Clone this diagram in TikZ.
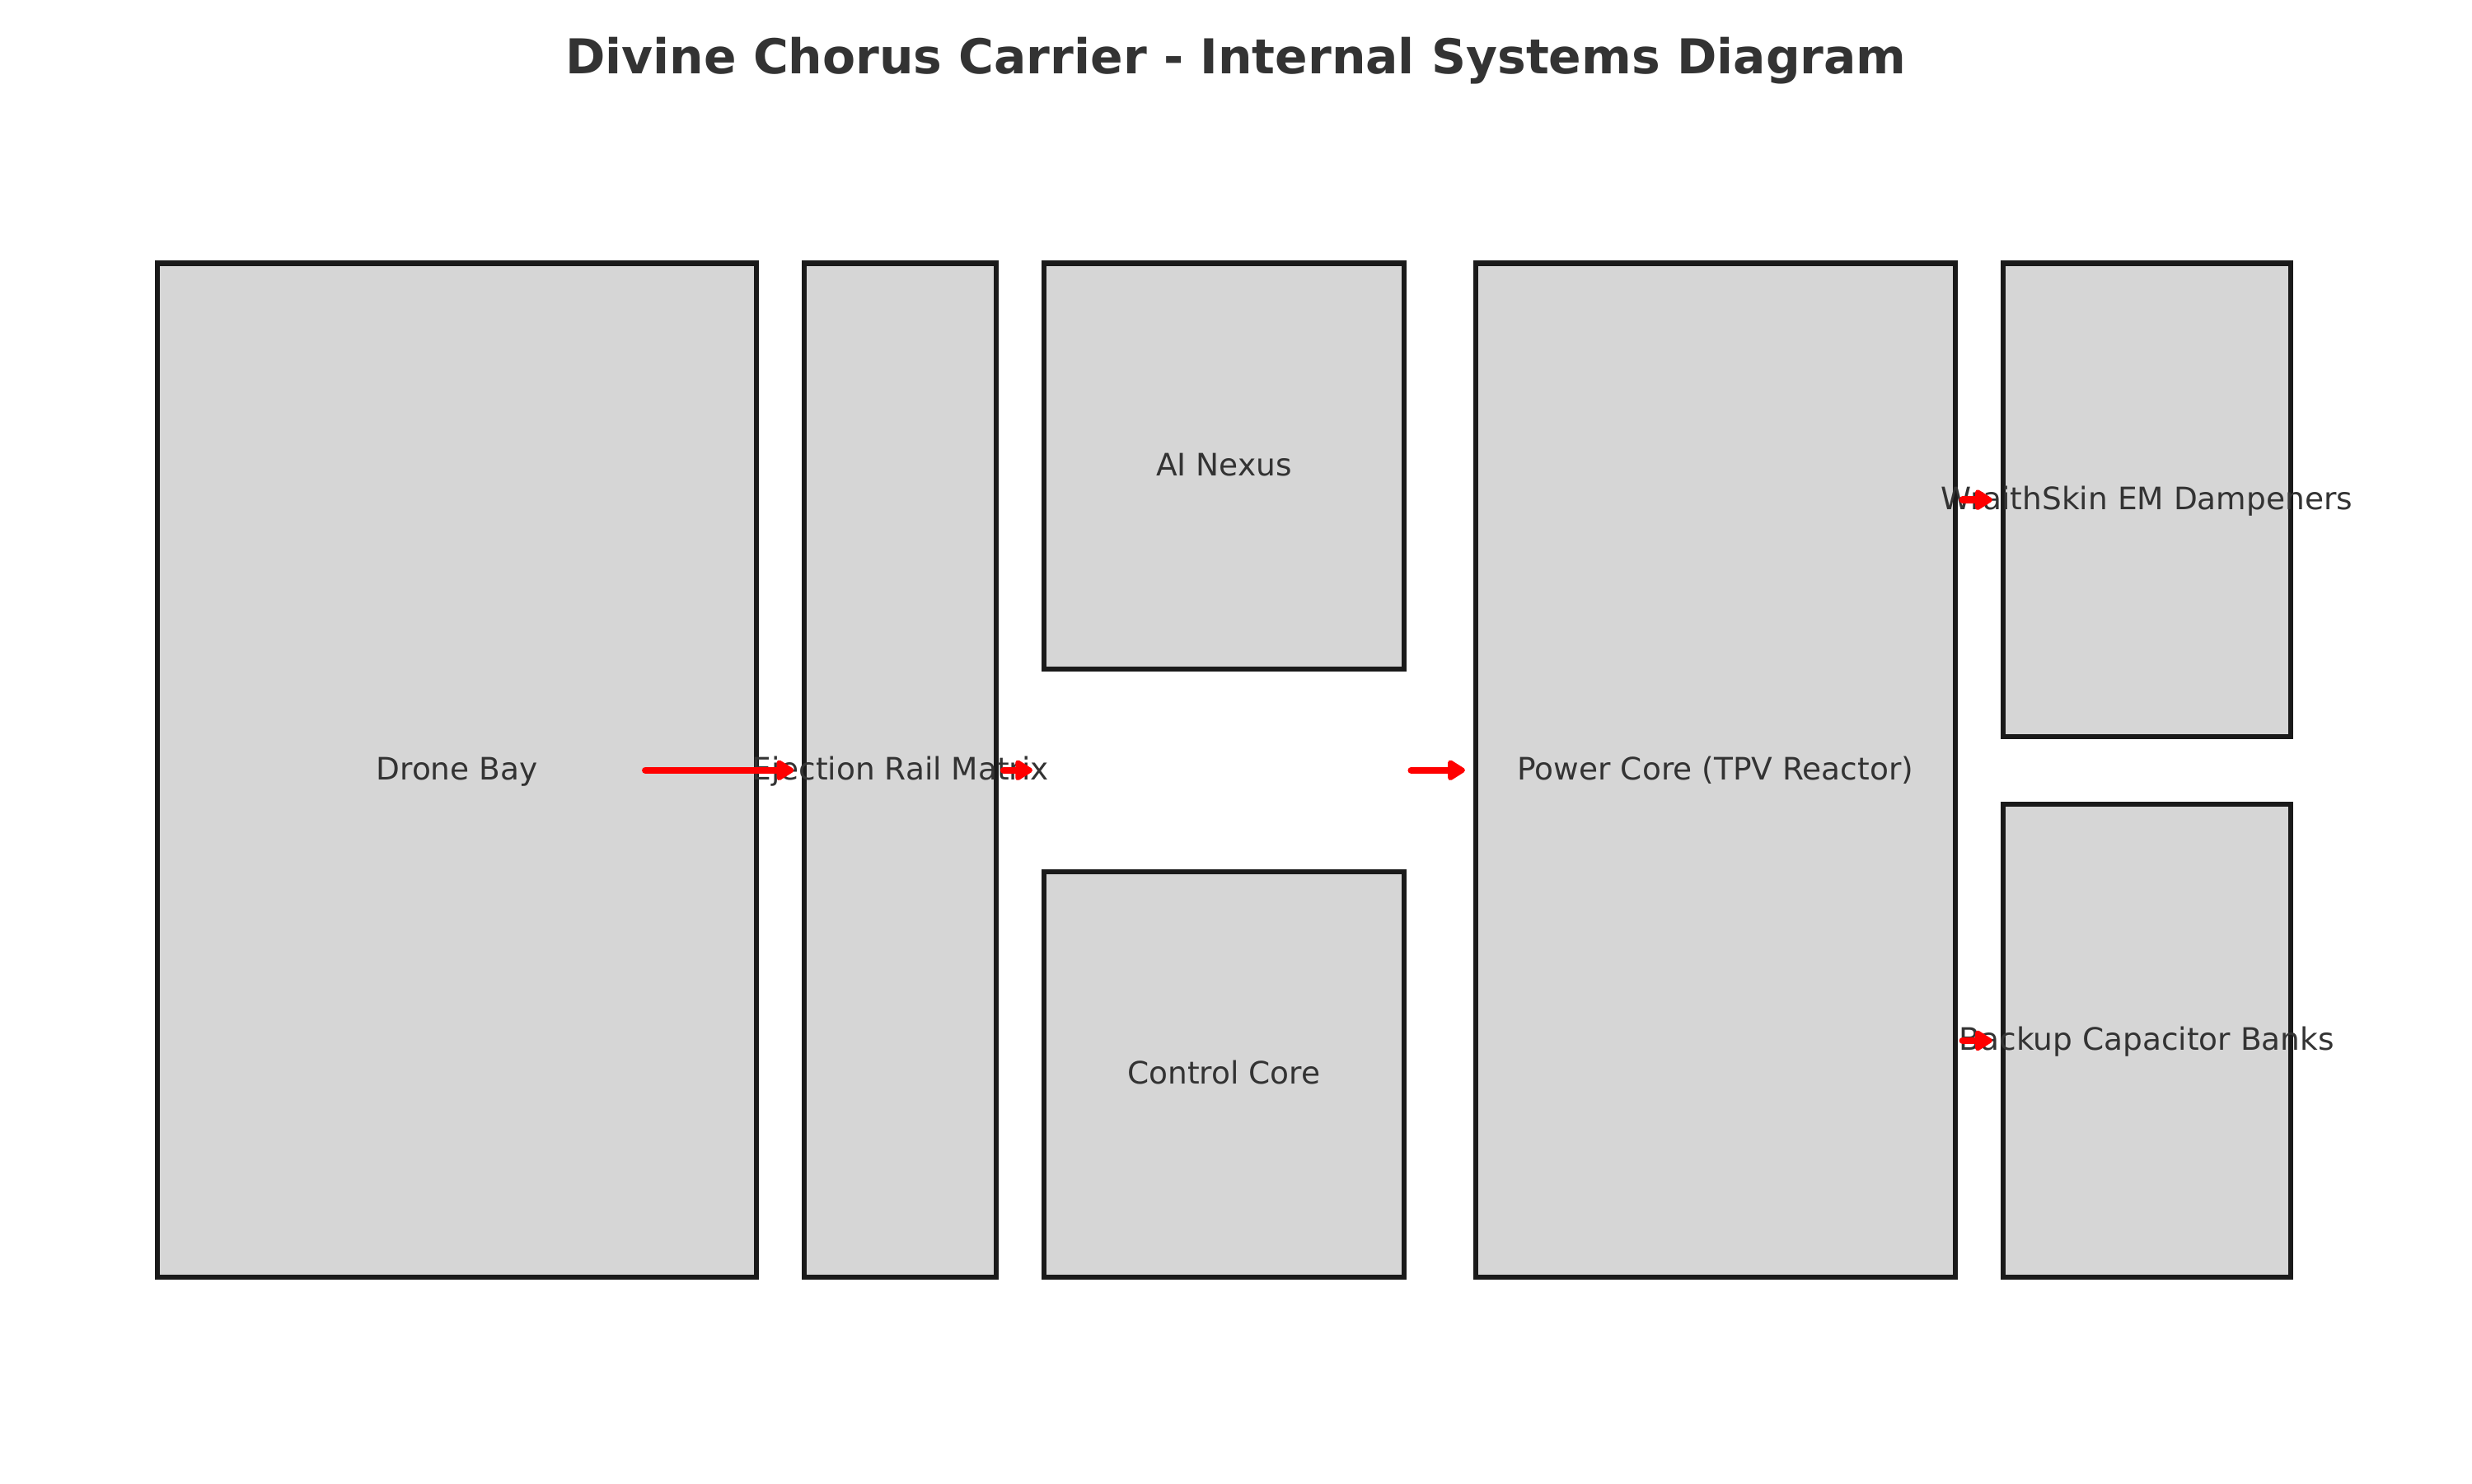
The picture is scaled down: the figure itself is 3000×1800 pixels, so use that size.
\documentclass[tikz,border=0pt]{standalone}
\usepackage{fontspec}
\setmainfont{DejaVu Sans}
\usetikzlibrary{fit,arrows.meta,calc}
\definecolor{boxfill}{HTML}{D6D6D6}
\definecolor{boxline}{HTML}{1A1A1A}
\definecolor{txt}{HTML}{333333}
\definecolor{arrowred}{HTML}{FF0000}
\tikzset{
  box/.style={rectangle, draw=boxline, fill=boxfill, line width=2.2bp, inner sep=0pt, outer sep=0pt},
  lbl/.style={text=txt, font=\fontsize{13.5bp}{16bp}\selectfont, inner sep=0pt, anchor=base},
  ttl/.style={text=txt, font=\fontsize{21bp}{25bp}\selectfont\bfseries, inner sep=0pt, anchor=base},
  flow/.style={draw=arrowred, line width=3bp, line cap=round, -{Triangle[length=8.5bp, width=10bp, round]}}
}
\begin{document}
\begin{tikzpicture}[x=0.36bp, y=-0.36bp]
\useasboundingbox (0,0) rectangle (3000,1800);
% boxes
\node[box, fit={(190.9,319.5) (918.2,1550)}] (drone) {};
\node[box, fit={(976.3,319.5) (1209.0,1550)}] (eject) {};
\node[box, fit={(1267.2,319.5) (1703.6,811.7)}] (ai) {};
\node[box, fit={(1267.2,1057.8) (1703.6,1550)}] (control) {};
\node[box, fit={(1790.9,319.5) (2372.7,1550)}] (power) {};
\node[box, fit={(2430.8,319.5) (2779.9,893.7)}] (wraith) {};
\node[box, fit={(2430.8,975.7) (2779.9,1550)}] (backup) {};
% title
\node[ttl] (title) at (1500,89) {Divine Chorus Carrier - Internal Systems Diagram};
% labels
\node[lbl] (droneL) at ($(drone.center)+(0,11.5)$) {Drone Bay};
\node[lbl] (aiL) at ($(ai.center)+(0,11.5)$) {AI Nexus};
\node[lbl] (controlL) at ($(control.center)+(0,11.5)$) {Control Core};
\node[lbl] (ejectL) at ($(eject.center)+(0,11.5)$) {Ejection Rail Matrix};
\node[lbl] (powerL) at ($(power.center)+(0,11.5)$) {Power Core (TPV Reactor)};
\node[lbl] (wraithL) at ($(wraith.center)+(0,11.5)$) {WraithSkin EM Dampeners};
\node[lbl] (backupL) at ($(backup.center)+(0,11.5)$) {Backup Capacitor Banks};
% arrows
\coordinate (a1s) at ($(drone.east)+(-135,0)$);
\coordinate (a1e) at ($(eject.west)+(-13,0)$);
\coordinate (a2s) at ($(eject.east)+(9,0)$);
\coordinate (a2e) at ($(eject.east)+(44,0)$);
\coordinate (a3s) at ($(ai.east |- eject.east)+(9,0)$);
\coordinate (a3e) at ($(power.west)+(-13,0)$);
\coordinate (a4s) at ($(power.east |- wraith.west)+(9,0)$);
\coordinate (a4e) at ($(wraith.west)+(-13,0)$);
\coordinate (a5s) at ($(power.east |- backup.west)+(9,0)$);
\coordinate (a5e) at ($(backup.west)+(-13,0)$);
\draw[flow] (a1s) -- (a1e);
\draw[flow] (a2s) -- (a2e);
\draw[flow] (a3s) -- (a3e);
\draw[flow] (a4s) -- (a4e);
\draw[flow] (a5s) -- (a5e);
\end{tikzpicture}
\end{document}
